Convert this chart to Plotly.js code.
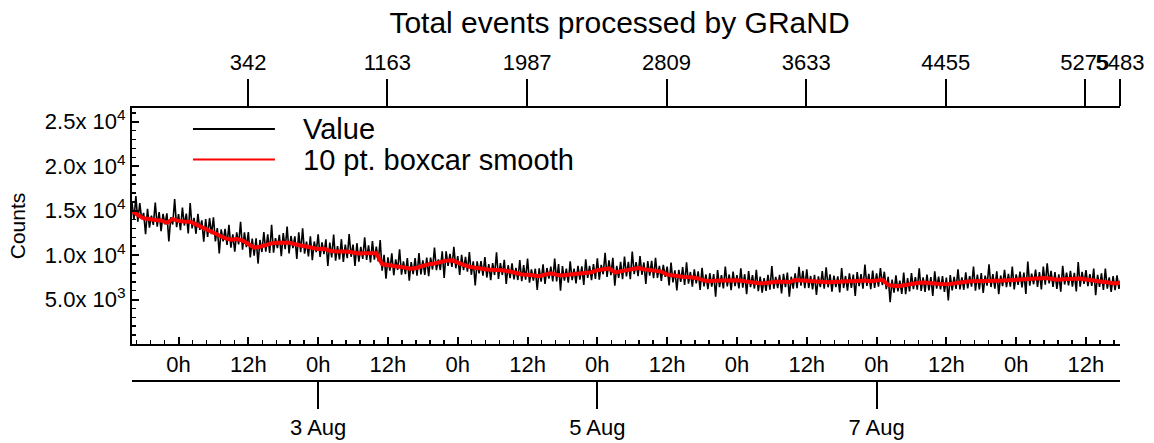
<!DOCTYPE html>
<html>
<head>
<meta charset="utf-8">
<script src="https://cdn.plot.ly/plotly-3.0.1.min.js"></script>
<style>html,body{margin:0;padding:0;background:#fff;}#chart{width:1154px;height:443px;}</style>
</head>
<body>
<div id="chart"></div>
<script>
// ---------------- data ----------------
const chartTitle = 'Total events processed by GRaND';
const yAxisTitle = 'Counts';
const seriesNames = ['Value', '10 pt. boxcar smooth'];
const seriesStart = Date.UTC(2011, 7, 1, 16, 0, 0);   // 1 Aug, 16:00
const smoothStepMinutes = 60;
const valueStepMinutes = 20;

// 10 pt. boxcar smooth (hourly readings)
const smoothCounts = [
15000,14500,14150,14000,13950,13900,13650,14050,13850,13780,
13750,13450,13150,12800,12450,12150,11900,11730,11800,11650,
11250,10850,10950,11150,11320,11380,11420,11400,11220,11070,
10910,10780,10690,10720,10500,10420,10440,10410,10290,10170,
10200,10230,10200,8990,8850,8780,8700,8620,8470,8580,
8810,8980,9060,9220,9380,9420,9130,8900,8690,8550,
8430,8380,8360,8360,8260,8160,7950,7830,7800,7720,
7620,7800,7950,7800,7720,7790,7880,7990,8030,8080,
8300,8450,8500,8050,8190,8350,8460,8540,8420,8300,
8190,8150,7800,7690,7600,7550,7500,7430,7220,7060,
7120,7150,7070,7100,7160,7100,7000,6840,6820,6870,
6960,7040,6990,6970,7190,7170,7050,7030,7000,6980,
6940,7010,7050,7050,7050,7120,7130,7060,7200,7230,
6650,6520,6530,6660,6770,6870,6910,6920,6820,6750,
6710,6790,6890,7000,7050,7050,7090,7160,7120,7110,
7150,7200,7240,7280,7320,7320,7350,7420,7330,7240,
7290,7340,7410,7360,7250,7140,7040,6980,6900,6810,
6900];

// Value (raw counts, every 20 minutes)
const valueCounts = [
15900,13950,16650,13750,15850,14050,14750,12350,15200,13100,14450,13400,15900,13200,14850,12700,14650,13450,14700,11550,14250,13450,16300,13150,14600,12800,15350,13330,14680,12430,
15850,13000,14200,12400,14650,12850,13900,11500,14050,12050,14150,12350,14250,11550,13050,10200,12900,11550,12950,11150,13400,10830,12330,10380,12550,11200,13750,10600,12550,10900,
12600,9750,11850,9950,11900,9050,11700,10350,12600,10400,12350,10250,13420,10270,11920,10780,12280,9880,12470,10670,13220,10200,12150,10800,12120,9570,12570,10320,13020,10170,
11510,9860,12110,9430,11530,10330,12340,9790,11440,10120,11770,8770,11400,9750,12300,9370,11020,9520,11790,9240,11190,9660,12360,9810,11190,8790,11340,9270,10920,9570,
12000,9450,11100,9180,11580,9480,10950,9300,11700,8240,10040,7340,9750,8250,10200,7730,9530,8330,10650,7800,9300,7870,9670,7120,9220,7870,9670,7680,10230,7830,
9410,7760,9710,7630,9730,8380,10860,8310,9510,8320,10420,7420,10430,8780,10130,8670,10920,8520,9880,7780,10030,8300,9800,8150,10340,7790,9290,6600,9300,7950,
9330,7680,9780,7480,8980,7180,9110,7760,10310,7310,9110,7760,9460,6760,8860,7410,9060,7260,8550,7200,9450,7080,8880,7230,9600,6900,8400,7120,8470,6070,
8520,7020,8970,6750,8550,7350,8700,7050,9600,7050,9000,6000,8770,7120,8470,6890,9290,7190,8480,6830,8780,7240,8740,6640,9530,7430,8780,7180,8980,7330,
9650,7250,8900,7850,10250,7550,9400,7750,9700,6550,8800,7450,9240,7290,9840,7600,9250,7300,10410,7860,9210,7640,9890,7790,9170,6770,9320,7700,9350,7400,
9690,7440,8790,7100,8900,7550,8700,6600,9150,6940,8290,6040,8350,7000,8650,6650,9200,6800,8100,6450,8400,6830,8180,6080,8570,6470,7820,6160,7960,6460,
7870,5320,8320,6400,7750,6250,8720,6470,7820,6050,8150,6500,7760,6260,8510,6350,7850,5600,8200,6400,7750,6240,8340,5940,7570,5770,7420,5970,7770,6120,
8760,6210,7560,6290,7790,5690,7890,6390,8040,5320,7570,6220,7940,6290,8690,6570,8220,6270,8400,6300,7650,6130,7780,5530,7600,6400,8200,6230,8630,6380,
7840,5890,7690,6410,7610,5810,8550,6300,7650,6000,7950,6300,7800,5400,8100,6520,7870,6220,8930,6530,7880,6160,8260,6310,7950,6450,8550,6630,8130,6180,
7550,4700,7250,5770,7720,5920,7130,5630,8030,5610,7410,5910,7970,6170,7520,6120,8520,5970,7510,5860,7810,6020,7520,5420,8170,6220,7570,6150,7650,5850,
7460,4910,7760,6040,7540,6190,8390,6140,7490,6100,8050,6250,7650,6450,8700,6000,7800,6150,7990,5740,7690,6560,8960,6410,7870,6220,8170,5610,7710,6510,
8350,6400,7900,6450,8700,6150,7840,6640,8140,6380,8030,5630,9270,6570,7920,6720,8370,6420,8100,6150,8700,6670,9070,6820,8230,6430,8080,6190,7840,5890,
8790,6690,8040,6590,8240,6440,8010,5910,9210,6460,8110,6760,8300,6500,7850,6540,8490,5490,7790,6440,7940,6080,8480,6230,7500,5850,7650,6060,7710,6210,
7350];

// top axis: sample index labels
const topTickVals = [342, 1163, 1987, 2809, 3633, 4455, 5275, 5483];
const topRange = [-343, 5483];

// y ticks
const yTickVals = [5000, 10000, 15000, 20000, 25000];
const yTickText = ['5.0x 10<sup>3</sup>', '1.0x 10<sup>4</sup>', '1.5x 10<sup>4</sup>', '2.0x 10<sup>4</sup>', '2.5x 10<sup>4</sup>'];
const yRange = [0, 26550];

// ---------------- build ----------------
const MIN = 60000;
const smoothTimes = smoothCounts.map((_, i) => seriesStart + i * smoothStepMinutes * MIN);
const valueTimes = valueCounts.map((_, i) => seriesStart + i * valueStepMinutes * MIN);
const xRange = [seriesStart, seriesStart + 169.85 * 60 * MIN];

const W = 1154, H = 443;
const M = {l: 132, r: 33.5, t: 108, b: 62};
const plotW = W - M.l - M.r, paperH = H - M.t - M.b;
const px = x => (x - M.l) / plotW;
const py = y => (H - M.b - y) / paperH;
const yDomainBottom = py(344);

const FONT = 'Liberation Sans, Arial, Helvetica, sans-serif';
const tickFont = {family: FONT, size: 22, color: '#000'};

const traces = [
  {x: valueTimes, y: valueCounts, type: 'scatter', mode: 'lines', name: seriesNames[0],
   line: {color: '#000000', width: 1.6}, xaxis: 'x', yaxis: 'y', hoverinfo: 'skip'},
  {x: smoothTimes, y: smoothCounts, type: 'scatter', mode: 'lines', name: seriesNames[1],
   line: {color: '#ff0000', width: 4}, xaxis: 'x', yaxis: 'y', hoverinfo: 'skip'},
  {x: topTickVals, y: topTickVals.map(() => null), type: 'scatter', mode: 'markers',
   xaxis: 'x2', yaxis: 'y', showlegend: false, hoverinfo: 'skip', marker: {opacity: 0}},
  {x: xRange, y: [null, null], type: 'scatter', mode: 'markers',
   xaxis: 'x3', yaxis: 'y', showlegend: false, hoverinfo: 'skip', marker: {opacity: 0}}
];

const layout = {
  width: W, height: H,
  margin: M,
  paper_bgcolor: '#fff', plot_bgcolor: '#fff',
  showlegend: false,
  font: {family: FONT, color: '#000'},
  title: {text: chartTitle, font: {family: FONT, size: 30, color: '#000'},
          xref: 'container', yref: 'container', x: 619.5 / W, y: 1 - 22 / H,
          xanchor: 'center', yanchor: 'middle'},
  xaxis: {
    type: 'date', range: xRange, anchor: 'y',
    tickmode: 'linear', tick0: Date.UTC(2011, 7, 1, 0, 0), dtick: 12 * 60 * MIN,
    tickformat: '%-Hh', tickfont: tickFont, tickangle: 0,
    ticks: 'inside', ticklen: 7, tickwidth: 2, tickcolor: '#000',
    minor: {tickmode: 'linear', tick0: Date.UTC(2011, 7, 1, 0, 0), dtick: 144 * MIN,
            ticks: 'inside', ticklen: 4, tickwidth: 1.5, tickcolor: '#000', showgrid: false},
    showline: true, linewidth: 2, linecolor: '#000', showgrid: false, zeroline: false
  },
  xaxis2: {
    type: 'linear', range: topRange, overlaying: 'x', side: 'top', anchor: 'y',
    tickmode: 'array', tickvals: topTickVals, ticktext: topTickVals.map(String),
    tickfont: tickFont, tickangle: 0, ticks: 'outside', ticklen: 27, tickwidth: 2, tickcolor: '#000',
    showline: true, linewidth: 2, linecolor: '#000', showgrid: false, zeroline: false
  },
  xaxis3: {
    type: 'date', range: xRange, overlaying: 'x', anchor: 'free', position: 0, side: 'bottom',
    tickmode: 'linear', tick0: Date.UTC(2011, 7, 1, 0, 0), dtick: 2 * 24 * 60 * MIN,
    tickformat: '%-d %b', tickfont: tickFont, tickangle: 0,
    ticks: 'outside', ticklen: 27, tickwidth: 2, tickcolor: '#000',
    showline: true, linewidth: 2, linecolor: '#000', showgrid: false, zeroline: false
  },
  yaxis: {
    domain: [yDomainBottom, 1], range: yRange, anchor: 'x',
    tickmode: 'array', tickvals: yTickVals, ticktext: yTickText, tickfont: tickFont,
    ticks: 'inside', ticklen: 7, tickwidth: 2, tickcolor: '#000',
    minor: {tickmode: 'linear', tick0: 0, dtick: 1000, ticks: 'inside', ticklen: 4,
            tickwidth: 1.5, tickcolor: '#000', showgrid: false},
    showline: true, linewidth: 2, linecolor: '#000', showgrid: false, zeroline: false,
    title: {text: yAxisTitle, font: {family: FONT, size: 21, color: '#000'}, standoff: 14}
  },
  shapes: [
    {type: 'line', xref: 'paper', yref: 'paper', x0: px(193), x1: px(275), y0: py(129), y1: py(129),
     line: {color: '#000000', width: 2}},
    {type: 'line', xref: 'paper', yref: 'paper', x0: px(193), x1: px(275), y0: py(159.5), y1: py(159.5),
     line: {color: '#ff0000', width: 2}}
  ],
  annotations: [
    {xref: 'paper', yref: 'paper', x: px(301), y: py(129), text: seriesNames[0], showarrow: false,
     xanchor: 'left', yanchor: 'middle', font: {family: FONT, size: 29, color: '#000'}},
    {xref: 'paper', yref: 'paper', x: px(301), y: py(160), text: seriesNames[1], showarrow: false,
     xanchor: 'left', yanchor: 'middle', font: {family: FONT, size: 29, color: '#000'}}
  ]
};

Plotly.newPlot('chart', traces, layout, {displayModeBar: false, staticPlot: true});
</script>
</body>
</html>
